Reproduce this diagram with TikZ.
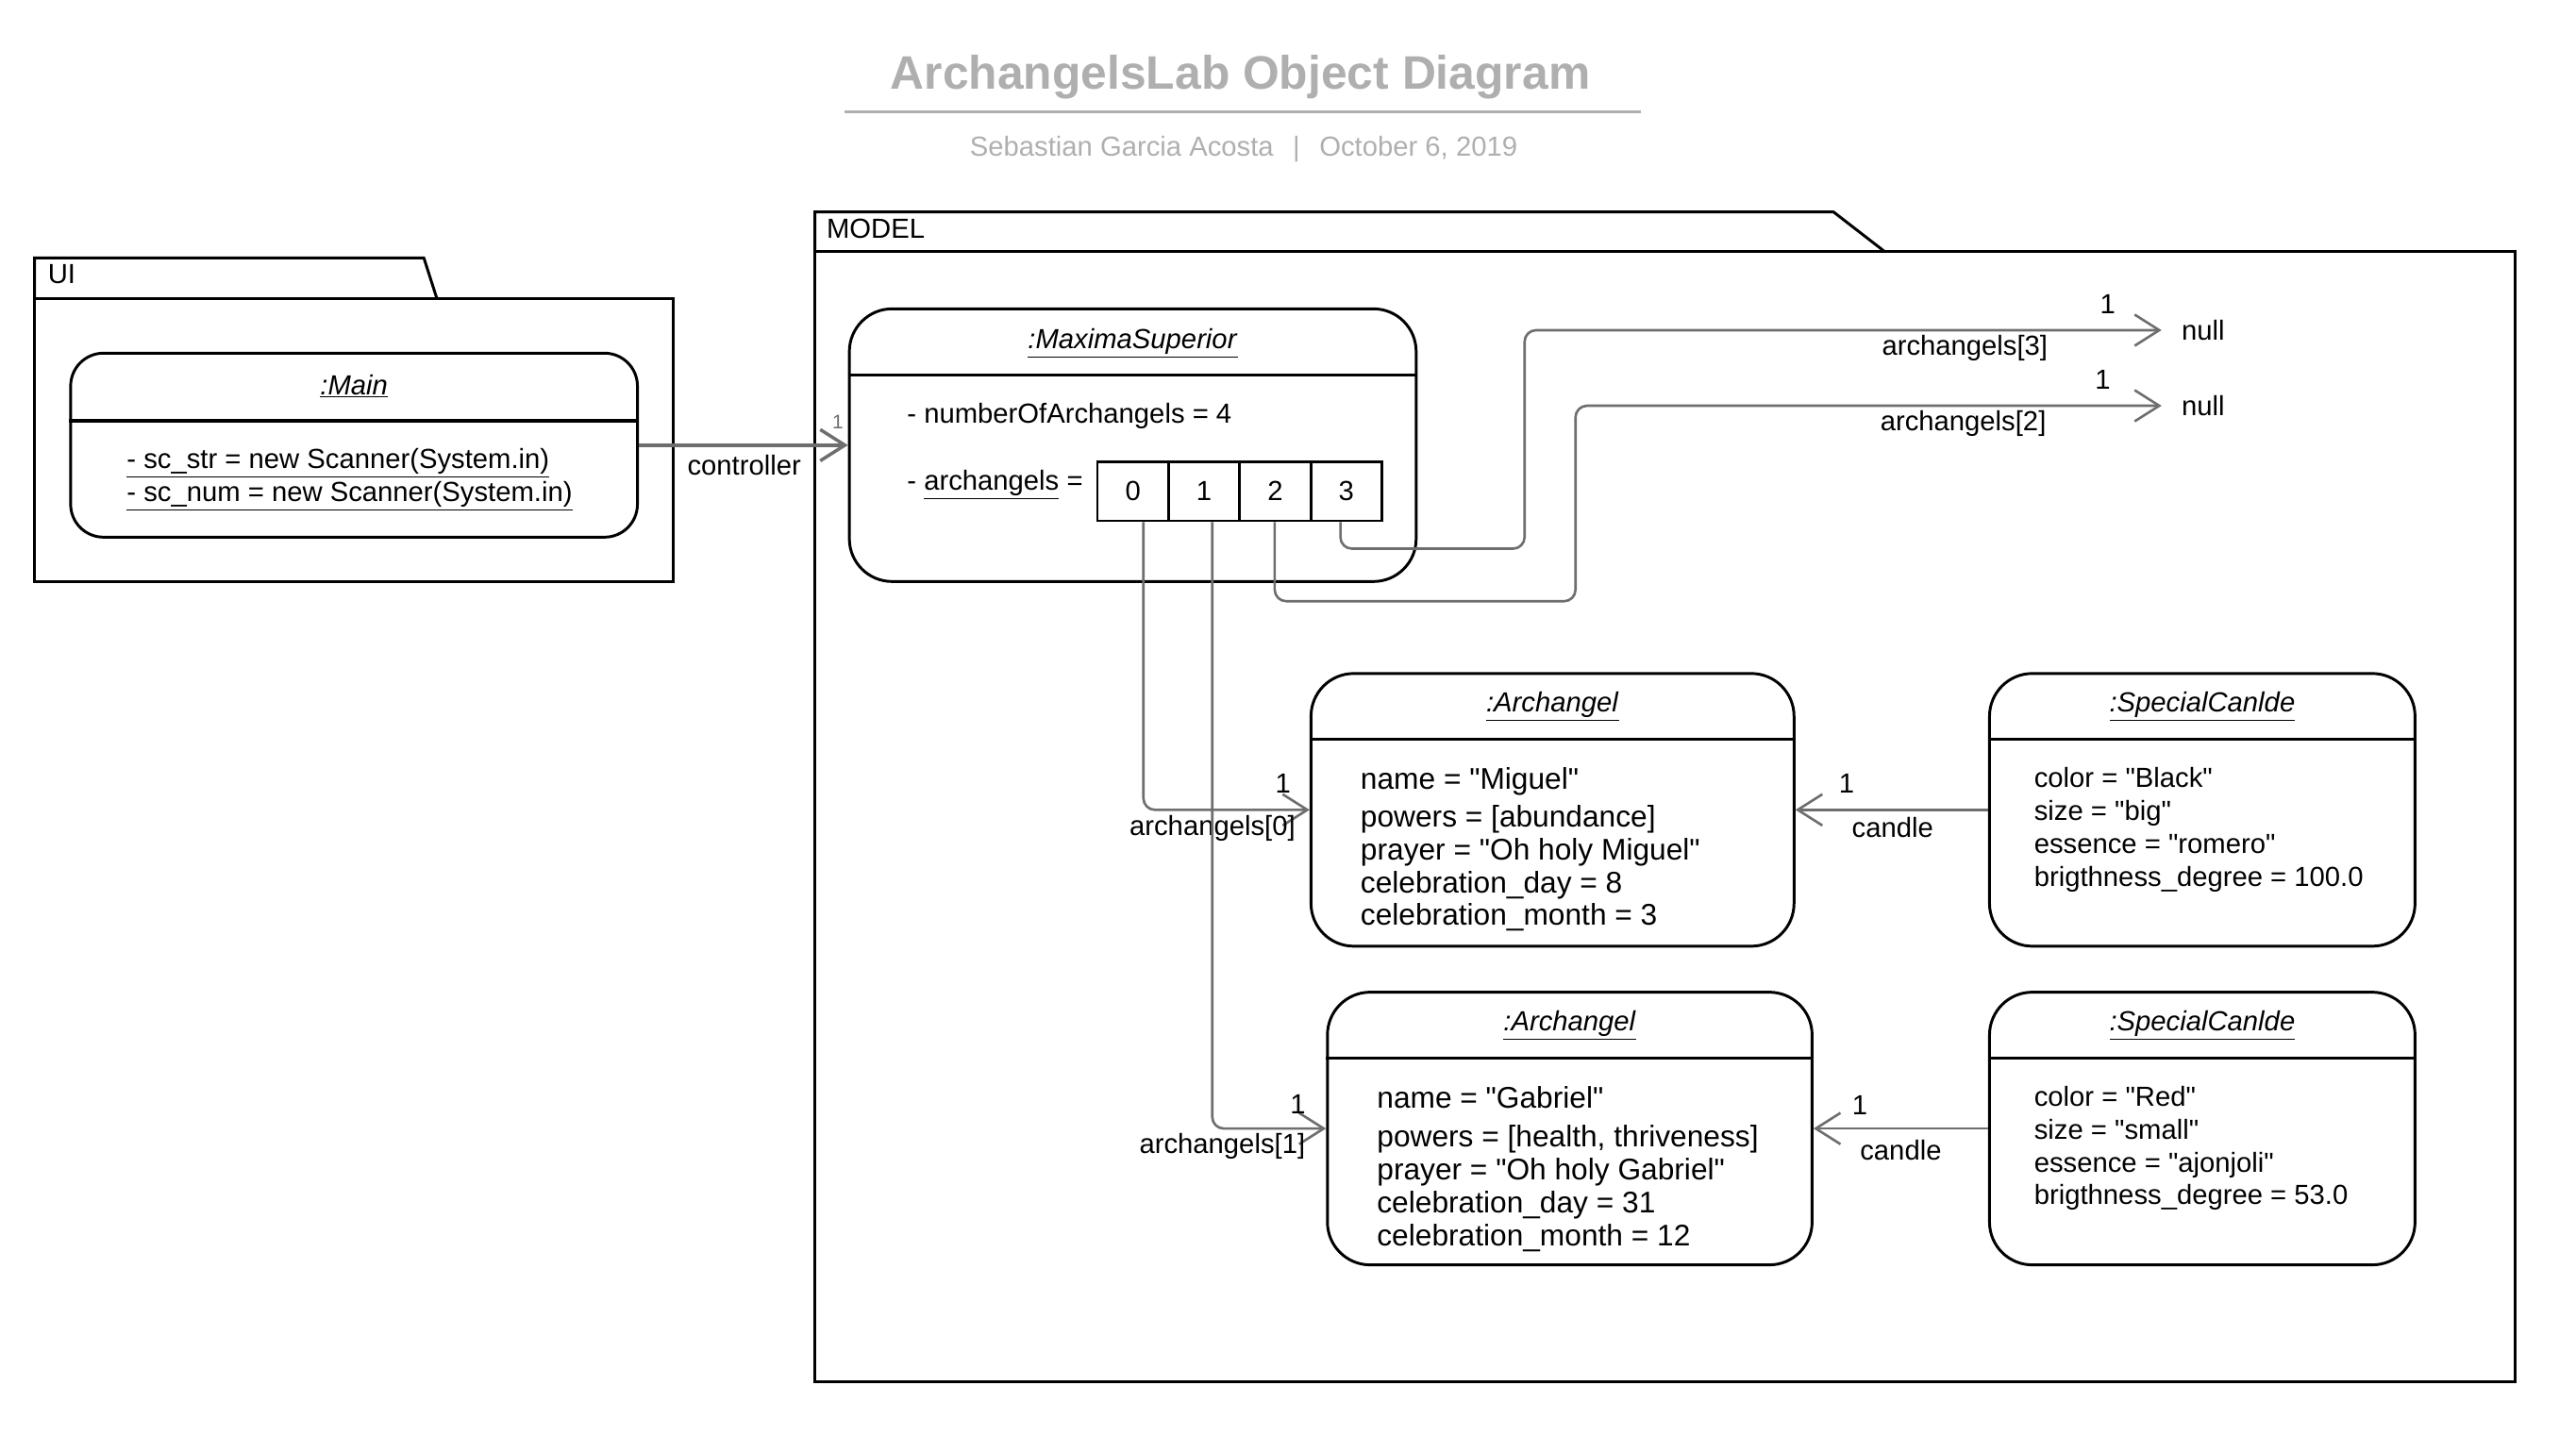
\documentclass[tikz,border=0pt]{standalone}
\usepackage{fontspec}
\setmainfont{Liberation Sans}[Ligatures=TeXOff]
\usetikzlibrary{arrows.meta}
\definecolor{conncol}{RGB}{110,110,110}
\definecolor{ttl}{RGB}{175,175,175}
\newcommand\szA{\fontsize{16.8}{20}\selectfont}
\newcommand\szB{\fontsize{18.2}{20}\selectfont}
\begin{document}
\begin{tikzpicture}[x=1pt,y=-1pt, font=\szA,
  obj/.style={draw, line width=1.7pt, rounded corners=26pt, inner sep=0pt},
  divl/.style={line width=1.9pt},
  cell/.style={draw, line width=1.6pt, minimum width=43.3pt, minimum height=36pt, inner sep=0pt},
  conn/.style={draw=conncol, line width=1.5pt, rounded corners=7pt, -{Straight Barb[length=15pt,width=19pt]}},
  txt/.style={inner sep=0pt},
  pkg/.style={line width=1.7pt},
]
\useasboundingbox (0,0) rectangle (1568,874);

% title
\node[txt, text=ttl, font=\fontsize{28.6}{32}\selectfont\bfseries] (title) at (755,47) {ArchangelsLab Object Diagram};
\draw[draw=ttl, line width=1.5pt] (514,68) -- (999,68);
\node[txt, text=ttl] (sub) at (757,91) {Sebastian Garcia Acosta\hspace{0.7em}|\hspace{0.7em}October 6, 2019};

% packages
\draw[pkg] (21,182) -- (21,157) -- (258,157) -- (266,182);
\draw[pkg] (21,182) rectangle (410,354);
\node[txt, anchor=west] (uilbl) at (29,167) {UI};
\draw[pkg] (496,153) -- (496,129) -- (1116,129) -- (1147,153);
\draw[pkg] (496,153) rectangle (1531,841);
\node[txt, anchor=west] (mlbl) at (503,139) {MODEL};

% Main
\node[obj, minimum width=345pt, minimum height=112pt, rounded corners=20pt] (main) at (215.5,271) {};
\draw[divl] ([yshift=-42pt]main.north west) -- ([yshift=-42pt]main.north east);
\node[txt] (maint) at ([yshift=-21pt]main.north) {\underline{\textit{:Main}}};
\node[txt, anchor=north west, align=left] (mainattr) at (77,273) {\underline{- sc\_str = new Scanner(System.in)}\\\underline{- sc\_num = new Scanner(System.in)}};

% MaximaSuperior
\node[obj, minimum width=345pt, minimum height=166pt] (ms) at (689.5,271) {};
\draw[divl] ([yshift=-41pt]ms.north west) -- ([yshift=-41pt]ms.north east);
\node[txt] (mst) at ([yshift=-22pt]ms.north) {\underline{\textit{:MaximaSuperior}}};
\node[txt, anchor=west] (msa1) at (552,253) {- numberOfArchangels = 4};
\node[txt, anchor=west] (msa2) at (552,295) {- \underline{archangels} =};
\node[cell] (c0) at (689.6,299) {0};
\node[cell] (c1) at (732.9,299) {1};
\node[cell] (c2) at (776.2,299) {2};
\node[cell] (c3) at (819.5,299) {3};

% Archangel 1
\node[obj, minimum width=294pt, minimum height=166pt] (a1) at (945,493) {};
\draw[divl] ([yshift=-41pt]a1.north west) -- ([yshift=-41pt]a1.north east);
\node[txt] (a1t) at ([yshift=-21pt]a1.north) {\underline{\textit{:Archangel}}};
\node[txt, anchor=north west, align=left, font=\szB] (a1a) at (828,467) {name = "Miguel"\\[3pt]powers = [abundance]\\prayer = "Oh holy Miguel"\\celebration\_day = 8\\celebration\_month = 3};

% Archangel 2
\node[obj, minimum width=295pt, minimum height=166pt] (a2) at (955.5,687) {};
\draw[divl] ([yshift=-41pt]a2.north west) -- ([yshift=-41pt]a2.north east);
\node[txt] (a2t) at ([yshift=-21pt]a2.north) {\underline{\textit{:Archangel}}};
\node[txt, anchor=north west, align=left, font=\szB] (a2a) at (838,661) {name = "Gabriel"\\[4pt]powers = [health, thriveness]\\prayer = "Oh holy Gabriel"\\celebration\_day = 31\\celebration\_month = 12};

% SpecialCanlde 1
\node[obj, minimum width=259pt, minimum height=166pt] (s1) at (1340.5,493) {};
\draw[divl] ([yshift=-41pt]s1.north west) -- ([yshift=-41pt]s1.north east);
\node[txt] (s1t) at ([yshift=-21pt]s1.north) {\underline{\textit{:SpecialCanlde}}};
\node[txt, anchor=north west, align=left] (s1a) at (1238,467) {color = "Black"\\size = "big"\\essence = "romero"\\brigthness\_degree = 100.0};

% SpecialCanlde 2
\node[obj, minimum width=259pt, minimum height=166pt] (s2) at (1340.5,687) {};
\draw[divl] ([yshift=-41pt]s2.north west) -- ([yshift=-41pt]s2.north east);
\node[txt] (s2t) at ([yshift=-21pt]s2.north) {\underline{\textit{:SpecialCanlde}}};
\node[txt, anchor=north west, align=left] (s2a) at (1238,661) {color = "Red"\\size = "small"\\essence = "ajonjoli"\\brigthness\_degree = 53.0};

% null targets
\node[txt, inner xsep=12pt] (null3) at (1341,201) {null};
\node[txt, inner xsep=12pt] (null2) at (1341,247) {null};

% connectors
\draw[conn, line width=2pt] (main.east) -- (ms.west);
\node[txt] (ctl) at (453,283) {controller};
\node[txt, text=conncol, font=\fontsize{12}{14}\selectfont] (ctlm) at (510,257) {1};

\coordinate (k3) at (928,334);
\draw[conn] ([xshift=-3.6pt]c3.south) |- (k3) |- (null3.west);
\node[txt] (l3) at (1196,212) {archangels[3]};
\node[txt] (m3) at (1283,185) {1};

\coordinate (k2) at (959,366);
\draw[conn] ([xshift=-0.3pt]c2.south) |- (k2) |- (null2.west);
\node[txt] (l2) at (1195,258) {archangels[2]};
\node[txt] (m2) at (1280,231) {1};

\draw[conn] ([xshift=6.4pt]c0.south) |- (a1.west);
\node[txt] (l0) at (738,504) {archangels[0]};
\node[txt] (m0) at (781,477) {1};

\draw[conn] ([xshift=5pt]c1.south) |- (a2.west);
\node[txt] (l1) at (744,698) {archangels[1]};
\node[txt] (m1) at (790,672) {1};

\draw[conn] (s1.west) -- (a1.east);
\node[txt] (cd1) at (1152,504) {candle};
\node[txt] (cm1) at (1124,477) {1};

\draw[conn] (s2.west) -- (a2.east);
\node[txt] (cd2) at (1157,700) {candle};
\node[txt] (cm2) at (1132,673) {1};
\end{tikzpicture}
\end{document}
